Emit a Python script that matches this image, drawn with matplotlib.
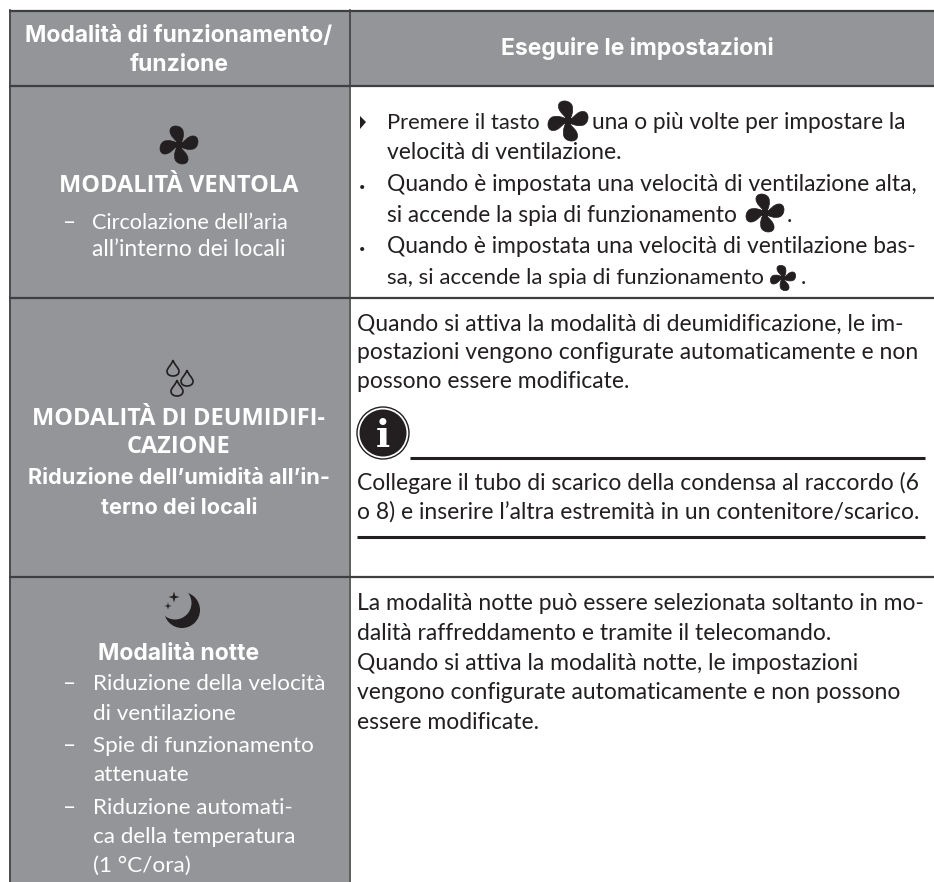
import matplotlib
matplotlib.use("Agg")
import matplotlib.pyplot as plt
from matplotlib.patches import PathPatch, Circle, Rectangle, Polygon
from matplotlib.path import Path
from matplotlib.transforms import Affine2D

W, H = 934, 882
GREY = "#939598"
DARK = "#3f3f41"
INK = "#231f20"
BODY = "Lato"
HEAD = "Inter"
TITLE = "Open Sans"
BS = 16.45

header_left = ["Modalità di funzionamento/", "funzione"]
header_right = "Eseguire le impostazioni"
row1_title = "MODALITÀ VENTOLA"
row1_left = ["Circolazione dell’aria", "all’interno dei locali"]
row1_right = [
    ["Premere il tasto", "una o più volte per impostare la"],
    ["velocità di ventilazione."],
    ["Quando è impostata una velocità di ventilazione alta,"],
    ["si accende la spia di funzionamento", "."],
    ["Quando è impostata una velocità di ventilazione bas-"],
    ["sa, si accende la spia di funzionamento", "."],
]
row2_title = ["MODALITÀ DI DEUMIDIFI-", "CAZIONE", "Riduzione dell’umidità all’in-", "terno dei locali"]
row2_right = [
    "Quando si attiva la modalità di deumidificazione, le im-",
    "postazioni vengono configurate automaticamente e non",
    "possono essere modificate.",
]
note = [
    "Collegare il tubo di scarico della condensa al raccordo (6",
    "o 8) e inserire l’altra estremità in un contenitore/scarico.",
]
row3_title = "Modalità notte"
row3_left = ["Riduzione della velocità", "di ventilazione", "Spie di funzionamento",
             "attenuate", "Riduzione automati-", "ca della temperatura", "(1 °C/ora)"]
row3_right = [
    "La modalità notte può essere selezionata soltanto in mo-",
    "dalità raffreddamento e tramite il telecomando.",
    "Quando si attiva la modalità notte, le impostazioni",
    "vengono configurate automaticamente e non possono",
    "essere modificate.",
]

fig = plt.figure(figsize=(W / 100, H / 100), dpi=100, facecolor="white")
ax = fig.add_axes([0, 0, 1, 1])
ax.set_xlim(0, W)
ax.set_ylim(H, 0)
ax.axis("off")


def T(x, y, s, color=INK, size=BS, weight="normal", ha="left", family=BODY):
    ax.text(x, y, s, color=color, fontsize=size, fontweight=weight, ha=ha, va="baseline", family=family)


def fan(cx, cy, size, color="#231f20"):
    s = size / 2
    verts = [(0.0, 0.0), (-0.12, -0.25), (-0.62, -0.42), (-0.58, -0.8),
             (-0.55, -1.08), (-0.05, -1.12), (0.12, -0.85),
             (0.24, -0.6), (0.2, -0.2), (0.0, 0.0)]
    codes = [Path.MOVETO] + [Path.CURVE4] * 9
    base = Path(verts, codes)
    for k in range(4):
        tr = Affine2D().rotate_deg(90 * k + 6).scale(s).translate(cx, cy)
        ax.add_patch(PathPatch(base.transformed(tr), fc=color, ec=color, lw=0.5, zorder=5))
    ax.add_patch(Circle((cx, cy), s * 0.24, fc=color, ec="none", zorder=5))


def drop(cx, cy, w, h):
    verts = [(0, -h / 2), (-w * 0.1, -h * 0.2), (-w / 2, 0), (-w / 2, h * 0.2),
             (-w / 2, h * 0.42), (-w * 0.25, h / 2), (0, h / 2),
             (w * 0.25, h / 2), (w / 2, h * 0.42), (w / 2, h * 0.2),
             (w / 2, 0), (w * 0.1, -h * 0.2), (0, -h / 2)]
    codes = [Path.MOVETO] + [Path.CURVE4] * 12
    p = Path([(cx + a, cy + b) for a, b in verts], codes)
    ax.add_patch(PathPatch(p, fc="none", ec=INK, lw=1.2, zorder=5))


def star(cx, cy, r):
    k = r * 0.22
    pts = [(0, -r), (k, -k), (r, 0), (k, k), (0, r), (-k, k), (-r, 0), (-k, -k)]
    ax.add_patch(Polygon([(cx + a, cy + b) for a, b in pts], fc=INK, ec="none", zorder=6))


# cell backgrounds
ax.add_patch(Rectangle((9, 10), W - 9, 76, fc=GREY, ec="none"))
ax.add_patch(Rectangle((9, 86), 340, 796, fc=GREY, ec="none"))

# rules
for y, lw in [(10.5, 1.6), (86, 1.6), (297.5, 1.6), (577, 1.6)]:
    ax.plot([9, W], [y, y], color=DARK, lw=lw, solid_capstyle="butt")
ax.plot([9.5, 9.5], [10, 882], color=DARK, lw=1.2)
ax.plot([349.5, 349.5], [10, 882], color=DARK, lw=1.2)

# header
T(179, 42, header_left[0], "white", 16.5, "bold", "center", HEAD)
T(179, 71, header_left[1], "white", 16.5, "bold", "center", HEAD)
T(637, 55, header_right, "white", 16.5, "bold", "center", HEAD)

# row 1 left
fan(179, 145, 36)
T(179, 192, row1_title, "white", 17, "bold", "center", TITLE)
T(63, 229, "–", "white")
T(92, 229, row1_left[0], "white", 15.6)
T(92, 256, row1_left[1], "white")

# row 1 right
rx = 387
ax.add_patch(Polygon([(360, 116), (366, 122), (360, 129)], fc=INK, ec="none"))
T(rx, 129, row1_right[0][0], size=15.8)
fan(568, 121, 38)
T(592, 129, row1_right[0][1], size=16.3)
T(rx, 159, row1_right[1][0])
T(358.5, 191, "•", size=8)
T(rx, 191, row1_right[2][0])
T(rx, 222, row1_right[3][0], size=16.3)
fan(765, 213, 36)
T(787, 222, row1_right[3][1])
T(358.5, 253, "•", size=8)
T(rx, 253, row1_right[4][0], size=16.4)
T(rx, 284, row1_right[5][0], size=16.0)
fan(783, 278, 24)
T(801, 284, row1_right[5][1])

# row 2 left
drop(173, 368, 12, 16)
drop(187, 378, 12, 16)
drop(177, 388, 12, 16)
T(179, 425, row2_title[0], "white", 16.9, "bold", "center", TITLE)
T(179, 453, row2_title[1], "white", 16.9, "bold", "center", TITLE)
T(179, 484, row2_title[2], "white", 15.6, "bold", "center", HEAD)
T(179, 514, row2_title[3], "white", 15.6, "bold", "center", HEAD)

# row 2 right
tx = 357
for y, s in zip([330, 359, 388], row2_right):
    T(tx, y, s)
ax.add_patch(Circle((383, 433), 26, fc="white", ec=INK, lw=1.0, zorder=5))
ax.add_patch(Circle((383, 433), 23.5, fc=INK, ec="none", zorder=6))
ax.text(383, 447, "i", color="white", fontsize=27, fontweight="bold", family="DejaVu Serif",
        ha="center", va="baseline", zorder=7)
ax.plot([410, 925], [458, 458], color=INK, lw=2.2, solid_capstyle="butt")
T(tx, 490, note[0])
T(tx, 519, note[1])
ax.plot([357, 925], [537, 537], color=INK, lw=2.2, solid_capstyle="butt")

# row 3 left
ax.add_patch(Circle((182, 610), 18, fc=INK, ec="none", zorder=5))
ax.add_patch(Circle((175, 603), 16.5, fc=GREY, ec="none", zorder=6))
star(174, 597, 5.5)
star(168, 606, 3.5)
T(179, 660, row3_title, "white", 16.5, "bold", "center", HEAD)
for y, s in zip([690, 720, 752, 781, 814, 843, 872], row3_left):
    T(93, y, s, "white", 16.2)
for y in [690, 752, 814]:
    T(63, y, "–", "white")

# row 3 right
for y, s in zip([610, 640, 670, 699, 729], row3_right):
    T(tx, y, s)

fig.savefig("out.png", dpi=100)
